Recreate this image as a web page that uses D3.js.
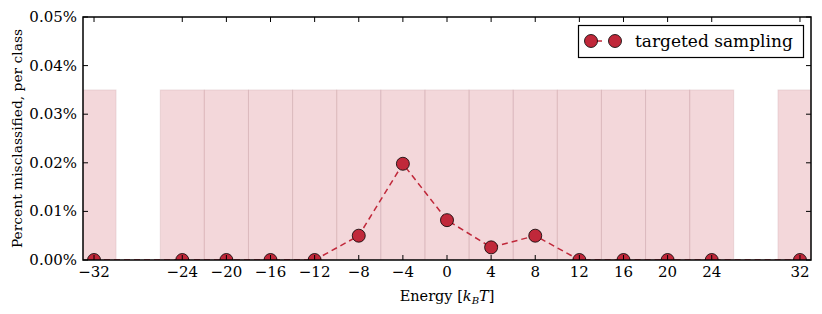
<!DOCTYPE html>
<html lang="en">
<head>
  <meta charset="UTF-8" />
  <title>Misclassification by energy</title>
  <script src="https://d3js.org/d3.v7.min.js"></script>
  <style>
    * { margin: 0; padding: 0; }
    body { background: #fff; width: 822px; height: 314px; overflow: hidden; }
    svg { display: block; font-family: 'DejaVu Serif', serif; }
  </style>
</head>
<body>
  <svg id="chart" width="822" height="314"></svg>

  <script>
    // sampled energies and misclassification (percent)
    const energies = [-32, -24, -20, -16, -12, -8, -4, 0, 4, 8, 12, 16, 20, 24, 32];
    const misclassified = [0, 0, 0, 0, 0, 0.0050, 0.0198, 0.0082, 0.0026, 0.0050, 0, 0, 0, 0, 0];
    // shaded class windows (centres), each 4 kT wide, height 0.035%
    const bandCentres = [-32, -24, -20, -16, -12, -8, -4, 0, 4, 8, 12, 16, 20, 24, 32];
    const bandHeight = 0.035;
    const xTicks = [-32, -24, -20, -16, -12, -8, -4, 0, 4, 8, 12, 16, 20, 24, 32];
    const yTicks = [0, 0.01, 0.02, 0.03, 0.04, 0.05];

    const red = '#c0283a';
    const m = { left: 83, right: 11, top: 17, bottom: 54 };
    const W = 822, H = 314;
    const svg = d3.select('#chart');

    const x = d3.scaleLinear().domain([-33, 33]).range([m.left, W - m.right]);
    const y = d3.scaleLinear().domain([0, 0.05]).range([H - m.bottom, m.top]);

    svg.append('clipPath').attr('id', 'clip')
      .append('rect')
      .attr('x', m.left).attr('y', m.top)
      .attr('width', W - m.left - m.right).attr('height', H - m.top - m.bottom);

    const plot = svg.append('g').attr('clip-path', 'url(#clip)');

    plot.selectAll('rect.band').data(bandCentres).enter().append('rect')
      .attr('class', 'band')
      .attr('x', d => x(d - 2))
      .attr('y', y(bandHeight))
      .attr('width', x(4) - x(0))
      .attr('height', y(0) - y(bandHeight))
      .attr('fill', '#c0283a')
      .attr('fill-opacity', 0.19)
      .attr('stroke', '#8a5058')
      .attr('stroke-opacity', 0.12)
      .attr('stroke-width', 1);

    // axes frame
    const frame = svg.append('g');
    frame.append('rect')
      .attr('x', m.left).attr('y', m.top)
      .attr('width', W - m.left - m.right).attr('height', H - m.top - m.bottom)
      .attr('fill', 'none').attr('stroke', '#000').attr('stroke-width', 1.5);

    // inward ticks
    xTicks.forEach(t => {
      frame.append('line').attr('x1', x(t)).attr('x2', x(t))
        .attr('y1', m.top).attr('y2', m.top + 5).attr('stroke', '#000');
      frame.append('line').attr('x1', x(t)).attr('x2', x(t))
        .attr('y1', y(0)).attr('y2', y(0) - 5).attr('stroke', '#000');
    });
    yTicks.forEach(t => {
      frame.append('line').attr('x1', m.left).attr('x2', m.left + 5)
        .attr('y1', y(t)).attr('y2', y(t)).attr('stroke', '#000');
      frame.append('line').attr('x1', W - m.right).attr('x2', W - m.right - 5)
        .attr('y1', y(t)).attr('y2', y(t)).attr('stroke', '#000');
    });

    // tick labels
    svg.append('g').selectAll('text').data(xTicks).enter().append('text')
      .attr('x', d => x(d))
      .attr('y', y(0) + 17)
      .attr('text-anchor', 'middle')
      .attr('font-size', 15)
      .text(d => d < 0 ? '\u2212' + Math.abs(d) : d);

    svg.append('g').selectAll('text').data(yTicks).enter().append('text')
      .attr('x', m.left - 6)
      .attr('y', d => y(d) + 5)
      .attr('text-anchor', 'end')
      .attr('font-size', 15)
      .text(d => d.toFixed(2) + '%');

    // axis titles
    const xl = svg.append('text')
      .attr('x', (m.left + W - m.right) / 2)
      .attr('y', 301)
      .attr('text-anchor', 'middle')
      .attr('font-size', 14.5);
    xl.append('tspan').text('Energy [');
    xl.append('tspan').attr('font-style', 'italic').text('k');
    xl.append('tspan').attr('font-style', 'italic').attr('font-size', 10).attr('dy', 3).text('B');
    xl.append('tspan').attr('font-style', 'italic').attr('dy', -3).text('T');
    xl.append('tspan').text(']');

    svg.append('text')
      .attr('transform', `translate(22, ${(m.top + H - m.bottom) / 2}) rotate(-90)`)
      .attr('text-anchor', 'middle')
      .attr('font-size', 13.8)
      .text('Percent misclassified, per class');

    // data line + markers
    const pts = energies.map((e, i) => [e, misclassified[i]]);
    plot.append('path')
      .datum(pts)
      .attr('d', d3.line().x(d => x(d[0])).y(d => y(d[1])))
      .attr('fill', 'none')
      .attr('stroke', red)
      .attr('stroke-width', 1.5)
      .attr('stroke-dasharray', '6,4');

    plot.selectAll('circle').data(pts).enter().append('circle')
      .attr('cx', d => x(d[0]))
      .attr('cy', d => y(d[1]))
      .attr('r', 6.5)
      .attr('fill', red)
      .attr('stroke', '#000')
      .attr('stroke-width', 0.8);

    // legend
    const lg = svg.append('g');
    lg.append('rect')
      .attr('x', 578.5).attr('y', 25.5).attr('width', 225).attr('height', 32)
      .attr('fill', '#fff').attr('stroke', '#000').attr('stroke-width', 1.2);
    lg.append('line').attr('x1', 597).attr('x2', 602).attr('y1', 41).attr('y2', 41)
      .attr('stroke', red).attr('stroke-width', 1.5);
    [591, 615].forEach(cx => {
      lg.append('circle').attr('cx', cx).attr('cy', 41).attr('r', 6.5)
        .attr('fill', red).attr('stroke', '#000').attr('stroke-width', 0.8);
    });
    lg.append('text').attr('x', 635).attr('y', 47).attr('font-size', 17)
      .text('targeted sampling');
  </script>
</body>
</html>
